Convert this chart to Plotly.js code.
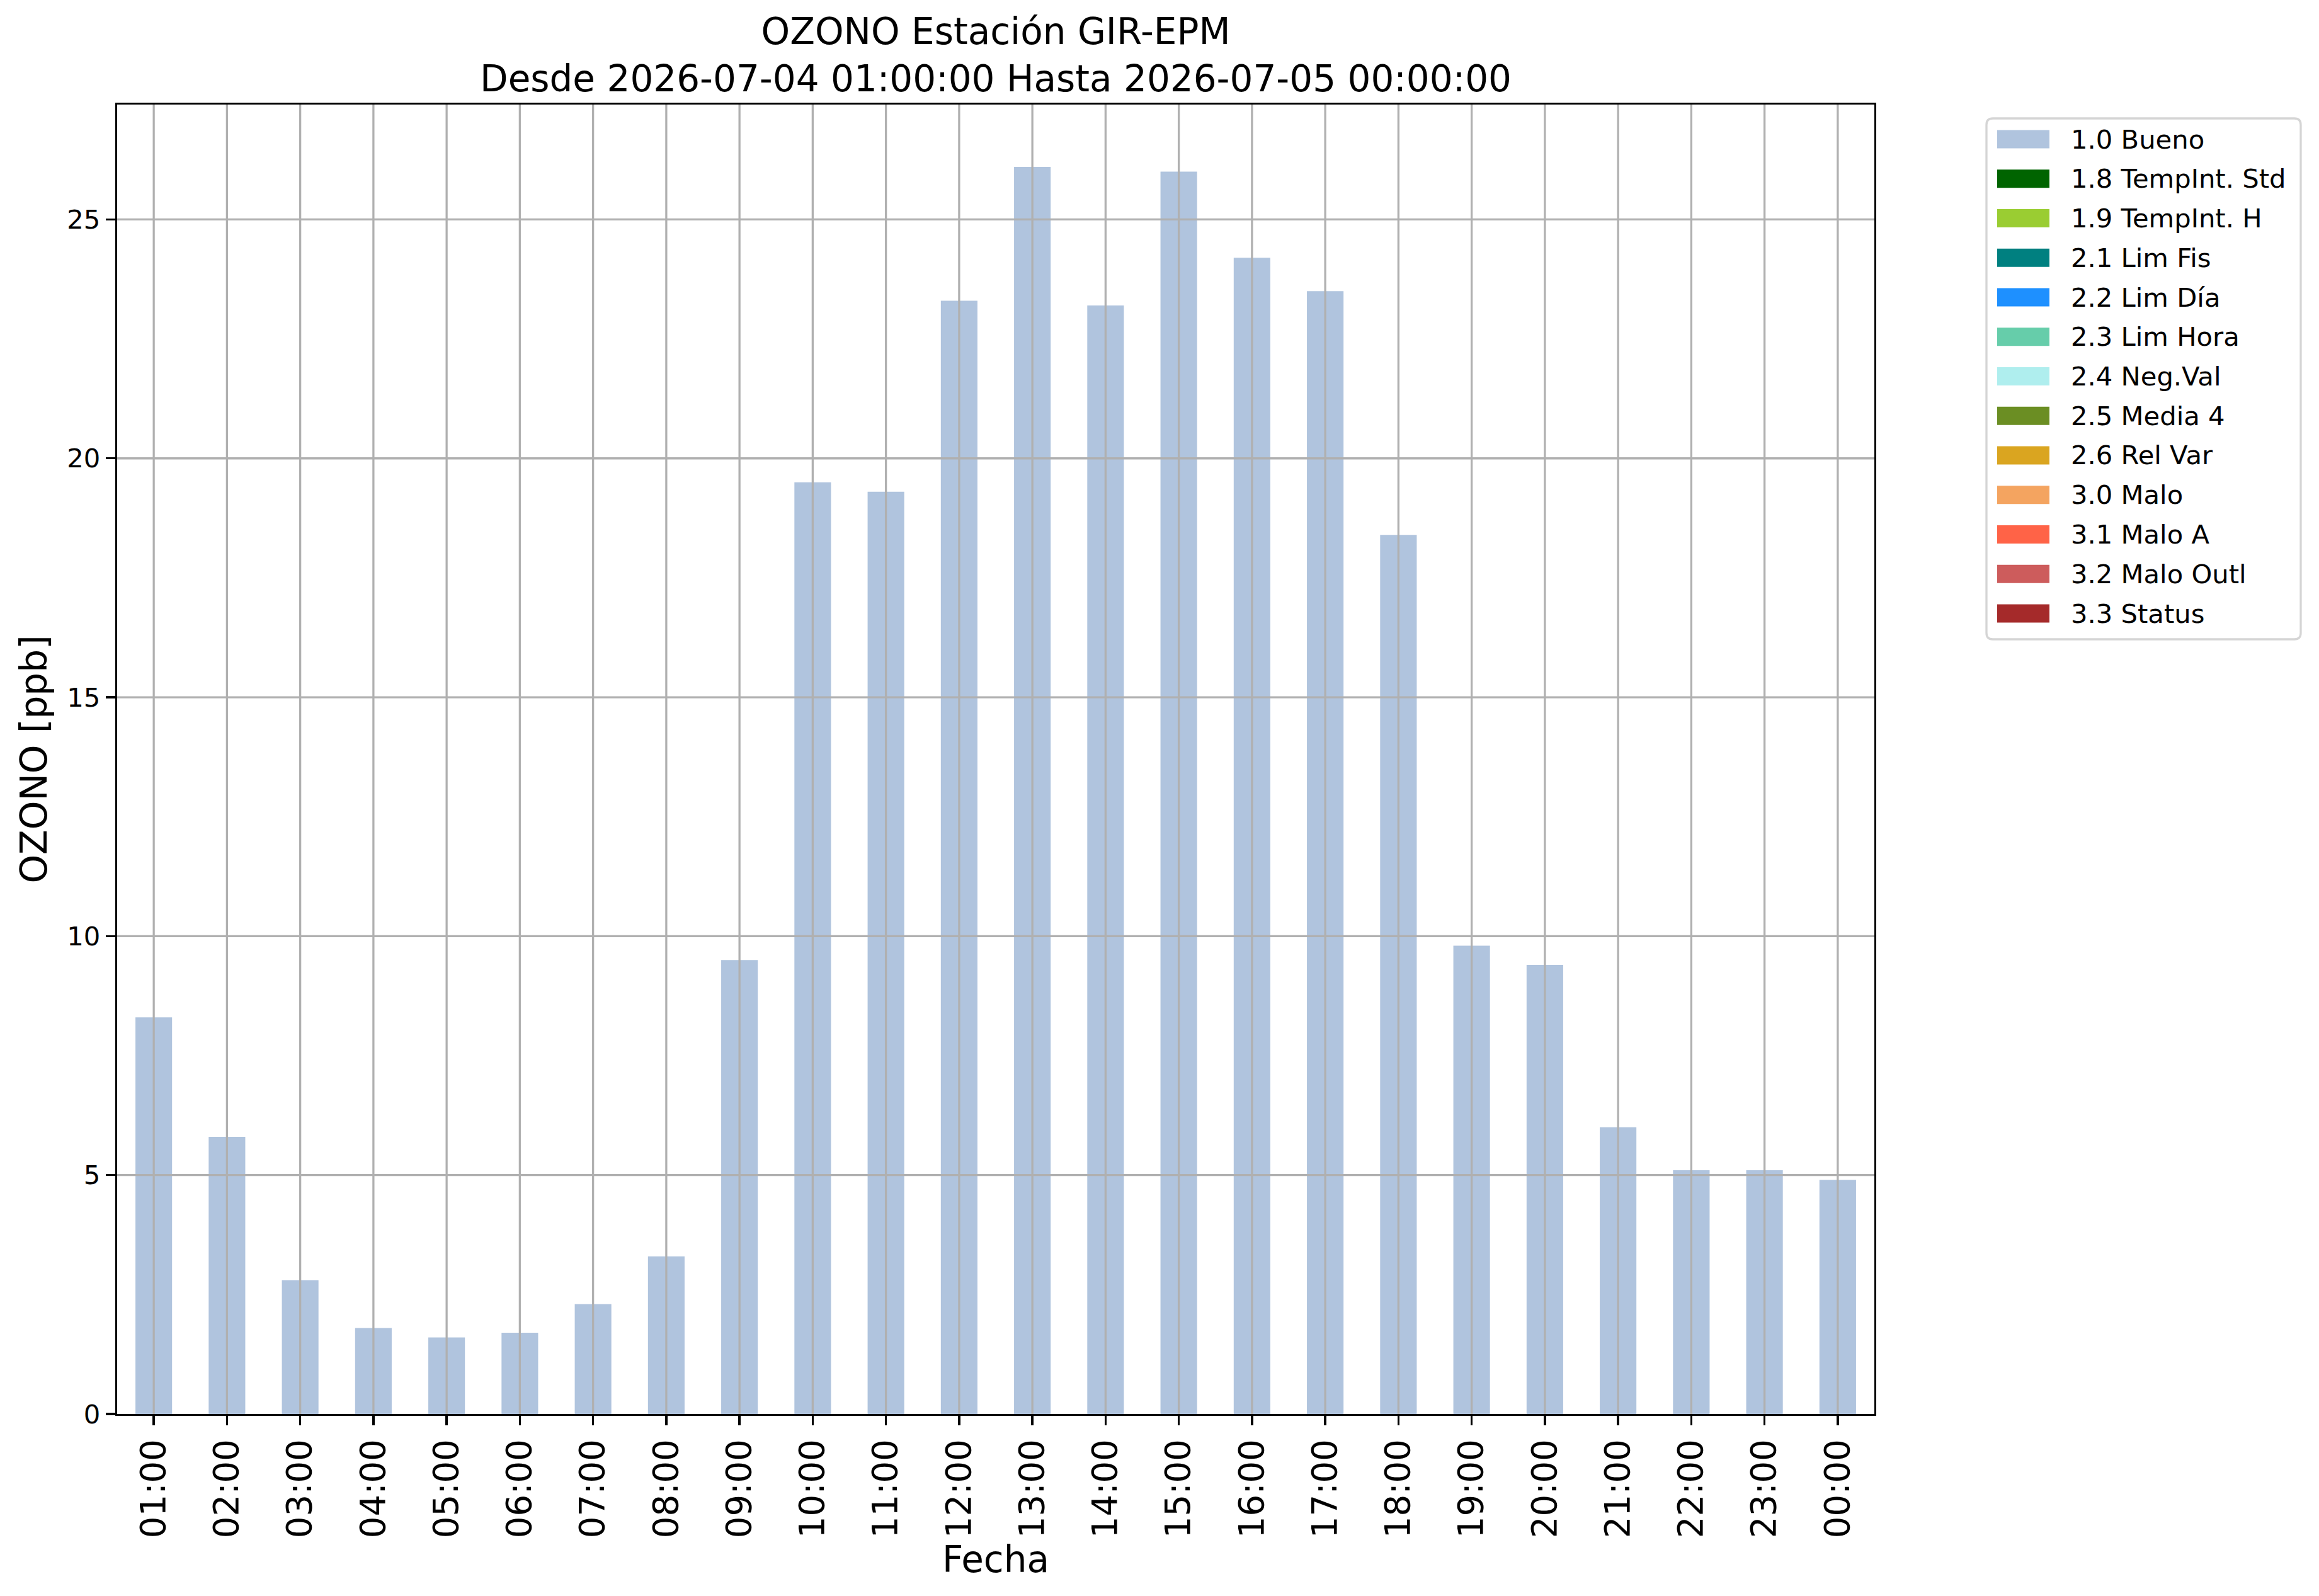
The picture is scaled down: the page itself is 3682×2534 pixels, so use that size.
<!DOCTYPE html>
<html>
<head>
<meta charset="utf-8">
<script src="https://cdn.plot.ly/plotly-3.0.1.min.js"></script>
<style>html,body{margin:0;padding:0;background:#fff;}</style>
</head>
<body>
<div id="chart" style="width:3682px;height:2534px;"></div>
<script>
// ---- data ----
const hours = ['01:00','02:00','03:00','04:00','05:00','06:00','07:00','08:00','09:00','10:00','11:00','12:00',
               '13:00','14:00','15:00','16:00','17:00','18:00','19:00','20:00','21:00','22:00','23:00','00:00'];
const ozono = [8.3, 5.8, 2.8, 1.8, 1.6, 1.7, 2.3, 3.3, 9.5, 19.5, 19.3, 23.3,
               26.1, 23.2, 26.0, 24.2, 23.5, 18.4, 9.8, 9.4, 6.0, 5.1, 5.1, 4.9];
const legendNames = ['1.0 Bueno','1.8 TempInt. Std','1.9 TempInt. H','2.1 Lim Fis','2.2 Lim Día','2.3 Lim Hora',
                     '2.4 Neg.Val','2.5 Media 4','2.6 Rel Var','3.0 Malo','3.1 Malo A','3.2 Malo Outl','3.3 Status'];
const legendColors = ['#B0C4DE','#006400','#9ACD32','#008080','#1E90FF','#66CDAA',
                      '#AFEEEE','#6B8E23','#DAA520','#F4A460','#FF6347','#CD5C5C','#A52A2A'];
const yTicks = [0, 5, 10, 15, 20, 25];
const titleText = 'OZONO Estación GIR-EPM<br>Desde 2026-07-04 01:00:00 Hasta 2026-07-05 00:00:00';

// ---- geometry helpers (pixels -> paper) ----
const W = 3682, H = 2534;
const L = 186, R = 2976, T = 166, B = 2245;
const PW = R - L, PH = B - T;
const px = X => (X - L) / PW;
const py = Y => (B - Y) / PH;
const FONT = 'DejaVu Sans, Liberation Sans, sans-serif';
const GRID = '#b0b0b0';
const LW = 3.3;

const shapes = [];
// grid lines above bars (as matplotlib draws them)
hours.forEach(h => shapes.push({type:'line', xref:'x', yref:'paper', x0:h, x1:h, y0:0, y1:1,
  line:{color:GRID, width:LW}, layer:'above'}));
yTicks.filter(v => v > 0).forEach(v => shapes.push({type:'line', xref:'paper', yref:'y', x0:0, x1:1, y0:v, y1:v,
  line:{color:GRID, width:LW}, layer:'above'}));

// legend frame (rounded)
const lx0 = 3154, lx1 = 3653, ly0 = 188, ly1 = 1015, rr = 10;
const rX = rr / PW, rY = rr / PH;
const a = px(lx0), b = px(lx1), c = py(ly0), d = py(ly1);
shapes.push({type:'path', xref:'paper', yref:'paper',
  path: `M ${a+rX},${c} L ${b-rX},${c} Q ${b},${c} ${b},${c-rY} L ${b},${d+rY} Q ${b},${d} ${b-rX},${d} ` +
        `L ${a+rX},${d} Q ${a},${d} ${a},${d+rY} L ${a},${c-rY} Q ${a},${c} ${a+rX},${c} Z`,
  line:{color:'#d5d5d5', width:LW}, fillcolor:'rgba(255,255,255,0.8)', layer:'above'});

const annotations = [];
const row0 = 221, rowStep = 62.75, hh = 14.6;
legendNames.forEach((name, i) => {
  const yc = row0 + i * rowStep;
  shapes.push({type:'rect', xref:'paper', yref:'paper', x0:px(3171), x1:px(3254), y0:py(yc + hh), y1:py(yc - hh),
    line:{width:0}, fillcolor:legendColors[i], layer:'above'});
  annotations.push({xref:'paper', yref:'paper', x:px(3286), y:py(yc), xanchor:'left', yanchor:'middle',
    text:name, showarrow:false, font:{family:FONT, size:41.7, color:'#000'}});
});

const traces = [{
  type:'bar', x:hours, y:ozono, name:legendNames[0],
  marker:{color:legendColors[0], line:{width:0}}, showlegend:false, hoverinfo:'x+y'
}];

const layout = {
  width:W, height:H,
  margin:{l:L, r:W-R, t:T, b:H-B, pad:0},
  paper_bgcolor:'#fff', plot_bgcolor:'#fff',
  showlegend:false,
  bargap:0.5,
  font:{family:FONT, color:'#000'},
  title:{text:titleText, font:{family:FONT, size:58, color:'#000'},
         x:(L+R)/2/W, xref:'container', xanchor:'center', y:1-70/H, yref:'container', yanchor:'middle'},
  xaxis:{type:'category', range:[-0.5, 23.5], autorange:false, showgrid:false, zeroline:false,
         showline:true, mirror:true, linecolor:'#000', linewidth:LW,
         ticks:'outside', ticklen:15, tickwidth:LW, tickcolor:'#000', tickangle:-90,
         tickfont:{family:FONT, size:54.5, color:'#000'}, automargin:false,
         title:{text:'Fecha', font:{family:FONT, size:58, color:'#000'}, standoff:0}},
  yaxis:{range:[0, 27.405], autorange:false, showgrid:false, zeroline:false,
         tickmode:'array', tickvals:yTicks, ticktext:yTicks.map(String),
         showline:true, mirror:true, linecolor:'#000', linewidth:LW,
         ticks:'outside', ticklen:15, tickwidth:LW, tickcolor:'#000',
         tickfont:{family:FONT, size:41.7, color:'#000'}, automargin:false,
         title:{text:'OZONO [ppb]', font:{family:FONT, size:58, color:'#000'}, standoff:14}},
  shapes:shapes,
  annotations:annotations
};

Plotly.newPlot('chart', traces, layout, {staticPlot:true, displayModeBar:false});
</script>
</body>
</html>
